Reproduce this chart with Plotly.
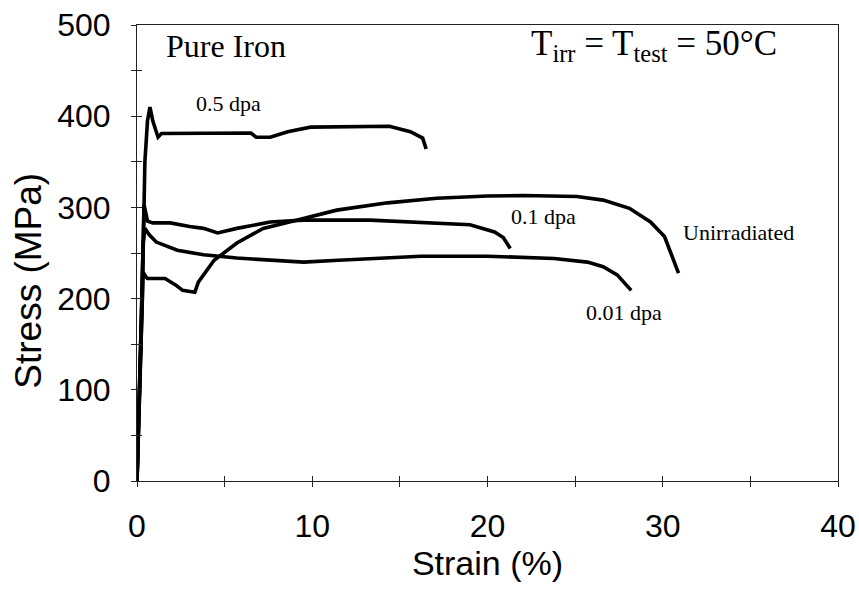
import plotly.graph_objects as go

# ---- data (strain %, stress MPa) ----
strain_unirr = [0.0, 0.1, 0.25, 0.35, 0.5, 0.6, 1.6, 2.2, 2.6, 3.3, 3.5, 4.4, 5.7, 7.2, 9.1,
                11.4, 14.3, 17.1, 20.0, 22.0, 25.1, 26.6, 28.1, 29.3, 30.1, 30.4, 30.7, 30.9]
stress_unirr = [0, 60, 180, 229, 224, 222, 222, 215, 209, 207, 218, 242, 261, 277, 286,
                297, 305, 310, 312.5, 313, 312, 308, 299, 284, 268, 253, 239, 228]

strain_001 = [0.0, 0.1, 0.25, 0.35, 0.45, 0.7, 1.1, 2.3, 3.8, 5.7, 7.5, 9.5, 11.5, 13.3,
              16.2, 20.0, 22.0, 23.8, 25.7, 26.6, 27.4, 28.2]
stress_001 = [0, 60, 180, 260, 277, 270, 262, 253, 248, 244.5, 242, 240, 242, 244,
              246.5, 246.5, 245.5, 244, 240, 235, 226, 209]

strain_01 = [0.0, 0.1, 0.25, 0.4, 0.6, 0.9, 1.9, 3.0, 3.8, 4.6, 5.7, 7.6, 9.5, 13.3,
             16.2, 19.0, 20.4, 20.9, 21.3]
stress_01 = [0, 60, 180, 303, 285, 283, 283, 279, 277, 272, 277, 284, 286, 286,
             283, 281, 273, 267, 255]

strain_05 = [0.0, 0.1, 0.3, 0.45, 0.6, 0.74, 0.9, 1.2, 1.4, 6.5, 6.8, 7.6, 8.6, 9.9,
             14.4, 15.6, 16.3, 16.5]
stress_05 = [0, 60, 200, 350, 395, 410, 395, 377, 381, 381.5, 377, 377, 383, 388,
             389, 383, 376, 364]

x_ticks = [0, 5, 10, 15, 20, 25, 30, 35, 40]
x_ticktext = ["0", "", "10", "", "20", "", "30", "", "40"]
y_ticks = [0, 50, 100, 150, 200, 250, 300, 350, 400, 450, 500]
y_ticktext = ["0", "", "100", "", "200", "", "300", "", "400", "", "500"]

curve_labels = ["0.5 dpa", "0.1 dpa", "Unirradiated", "0.01 dpa"]
label_x = [5.2, 23.2, 34.3, 27.8]
label_y = [414, 290, 272, 185]

SANS = "Liberation Sans, Arial, Helvetica, sans-serif"
SERIF = "Liberation Serif, Times New Roman, serif"

fig = go.Figure()
line = dict(color="black", width=3.6)
for xs, ys, nm in [(strain_unirr, stress_unirr, "Unirradiated"),
                   (strain_001, stress_001, "0.01 dpa"),
                   (strain_01, stress_01, "0.1 dpa"),
                   (strain_05, stress_05, "0.5 dpa")]:
    fig.add_trace(go.Scatter(x=xs, y=ys, mode="lines", line=line, name=nm,
                             showlegend=False, hoverinfo="x+y+name"))

# helper trace so the overlay axes (inner tick halves) are drawn
fig.add_trace(go.Scatter(x=[None], y=[None], xaxis="x2", yaxis="y2",
                         showlegend=False, hoverinfo="skip"))

for txt, lx, ly in zip(curve_labels, label_x, label_y):
    fig.add_annotation(x=lx, y=ly, text=txt, showarrow=False,
                       font=dict(family=SERIF, size=22, color="black"))

fig.add_annotation(x=5.1, y=477, text="Pure Iron", showarrow=False,
                   font=dict(family=SERIF, size=32, color="black"))
fig.add_annotation(x=29.5, y=478,
                   text="T<sub>irr</sub> = T<sub>test</sub> = 50°C", showarrow=False,
                   font=dict(family=SERIF, size=35, color="black"))

# y-axis title (placed as annotation to match the reference's lower position)
fig.add_annotation(xref="paper", yref="paper", x=-0.155, y=0.44,
                   xanchor="center", yanchor="middle",
                   text="Stress (MPa)", textangle=-90, showarrow=False,
                   font=dict(family=SANS, size=37, color="black"))

axis_common = dict(showgrid=False, zeroline=False, ticks="outside", ticklen=5,
                   tickwidth=1, tickcolor="#222", linecolor="#222", linewidth=1,
                   automargin=False,
                   tickfont=dict(family=SANS, size=32, color="black"))

fig.update_layout(
    width=859, height=592,
    margin=dict(l=137, r=21, t=25, b=111),
    paper_bgcolor="white", plot_bgcolor="white",
    showlegend=False,
    xaxis=dict(range=[0, 40], tickmode="array", tickvals=x_ticks, ticktext=x_ticktext,
               mirror=True, ticklabelstandoff=12,
               title=dict(text="Strain (%)", font=dict(family=SANS, size=34, color="black"),
                          standoff=4),
               **axis_common),
    yaxis=dict(range=[0, 500], tickmode="array", tickvals=y_ticks, ticktext=y_ticktext,
               mirror=True, ticklabelstandoff=14,
               **axis_common),
    xaxis2=dict(range=[0, 40], overlaying="x", anchor="y2", tickmode="array",
                tickvals=x_ticks, showticklabels=False, ticks="inside", ticklen=5,
                tickcolor="#222", showgrid=False, zeroline=False, showline=False,
                automargin=False),
    yaxis2=dict(range=[0, 500], overlaying="y", anchor="x2", tickmode="array",
                tickvals=y_ticks, showticklabels=False, ticks="inside", ticklen=5,
                tickcolor="#222", showgrid=False, zeroline=False, showline=False,
                automargin=False),
)

# remove the page's default 8px body margin so the figure fills the window exactly
fig.write_html("out.html", config={"displayModeBar": False},
               post_script="document.body.style.margin='0';document.body.style.overflow='hidden';")
